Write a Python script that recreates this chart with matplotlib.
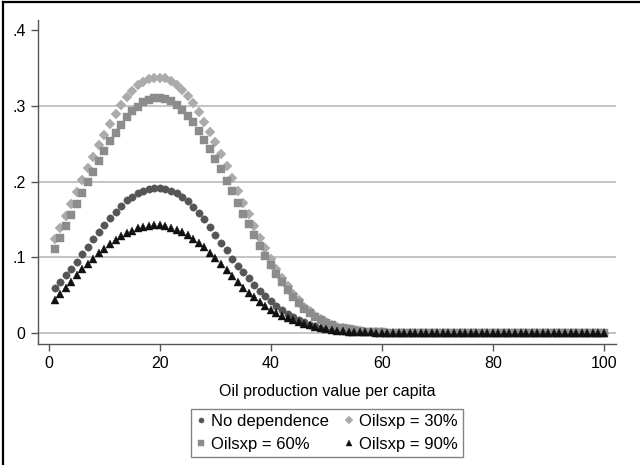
import matplotlib
matplotlib.use("Agg")
import matplotlib.pyplot as plt
from matplotlib.lines import Line2D

plt.rcParams['font.family'] = ['Liberation Sans', 'DejaVu Sans']

# oil production value per capita, 1..100
oil_value = list(range(1, 101))

no_dependence = [
    .060, .068, .076, .085, .094, .104, .114, .124, .134, .143,
    .152, .160, .168, .175, .180, .185, .188, .190, .191, .191,
    .190, .188, .185, .180, .174, .167, .159, .150, .140, .130,
    .119, .109, .098, .088, .080, .072, .064, .056, .049, .042,
    .036, .030, .025, .021, .017, .014, .011, .009, .007, .006,
    .005, .004, .003, .002, .002, .001, .001, .001, 0, 0,
    0, 0, 0, 0, 0, 0, 0, 0, 0, 0,
    0, 0, 0, 0, 0, 0, 0, 0, 0, 0,
    0, 0, 0, 0, 0, 0, 0, 0, 0, 0,
    0, 0, 0, 0, 0, 0, 0, 0, 0, 0,
]

oilsxp_30 = [
    .124, .138, .154, .170, .186, .202, .218, .233, .248, .262,
    .276, .289, .301, .311, .320, .327, .332, .335, .337, .337,
    .336, .333, .328, .321, .313, .303, .292, .279, .266, .252,
    .236, .220, .204, .188, .172, .157, .141, .126, .112, .098,
    .085, .073, .062, .052, .043, .035, .029, .023, .018, .014,
    .011, .008, .006, .005, .004, .003, .002, .002, .001, .001,
    0, 0, 0, 0, 0, 0, 0, 0, 0, 0,
    0, 0, 0, 0, 0, 0, 0, 0, 0, 0,
    0, 0, 0, 0, 0, 0, 0, 0, 0, 0,
    0, 0, 0, 0, 0, 0, 0, 0, 0, 0,
]

oilsxp_60 = [
    .111, .126, .141, .156, .170, .185, .199, .213, .227, .240,
    .253, .264, .275, .285, .293, .299, .305, .308, .310, .310,
    .309, .306, .301, .294, .287, .278, .267, .255, .243, .230,
    .216, .201, .187, .172, .157, .144, .129, .115, .102, .090,
    .078, .067, .057, .048, .039, .032, .027, .021, .017, .013,
    .010, .007, .006, .005, .004, .003, .002, .002, .001, .001,
    0, 0, 0, 0, 0, 0, 0, 0, 0, 0,
    0, 0, 0, 0, 0, 0, 0, 0, 0, 0,
    0, 0, 0, 0, 0, 0, 0, 0, 0, 0,
    0, 0, 0, 0, 0, 0, 0, 0, 0, 0,
]

oilsxp_90 = [
    .044, .052, .060, .068, .076, .084, .091, .098, .105, .111,
    .117, .123, .128, .132, .135, .138, .140, .141, .142, .142,
    .141, .139, .136, .133, .129, .124, .119, .113, .106, .099,
    .091, .083, .075, .067, .060, .053, .047, .041, .036, .031,
    .027, .023, .020, .017, .014, .012, .010, .008, .007, .005,
    .004, .003, .003, .002, .002, .001, .001, .001, 0, 0,
    0, 0, 0, 0, 0, 0, 0, 0, 0, 0,
    0, 0, 0, 0, 0, 0, 0, 0, 0, 0,
    0, 0, 0, 0, 0, 0, 0, 0, 0, 0,
    0, 0, 0, 0, 0, 0, 0, 0, 0, 0,
]

x_ticks = [0, 20, 40, 60, 80, 100]
y_ticks = [0, .1, .2, .3, .4]
y_ticklabels = ['0', '.1', '.2', '.3', '.4']

fig = plt.figure(figsize=(6.4, 4.65), dpi=100)
ax = fig.add_axes([38 / 640, 1 - 344 / 465, 578 / 640, 324 / 465])

series = [
    (no_dependence, 'o', '#555555', 5.3, 'No dependence'),
    (oilsxp_30, 'D', '#ababab', 5.4, 'Oilsxp = 30%'),
    (oilsxp_60, 's', '#8c8c8c', 5.2, 'Oilsxp = 60%'),
    (oilsxp_90, '^', '#111111', 5.9, 'Oilsxp = 90%'),
]
handles = {}
for vals, mk, col, ms, lab in series:
    h, = ax.plot(oil_value, vals, linestyle='none', marker=mk, ms=ms,
                 mfc=col, mec=col, mew=0.3, label=lab, zorder=3)
    handles[lab] = h

ax.set_xlim(-1.98, 102.2)
ax.set_ylim(-0.0145, 0.4132)
ax.set_xticks(x_ticks)
ax.set_yticks(y_ticks)
ax.set_yticklabels(y_ticklabels)
ax.tick_params(labelsize=11.5, length=5, width=1, color='#555555',
               labelcolor='black', pad=4)

for y in y_ticks[:-1]:
    ax.axhline(y, color='#b4b4b4', lw=1.1, zorder=1)

for s in ['top', 'right']:
    ax.spines[s].set_visible(False)
for s in ['left', 'bottom']:
    ax.spines[s].set_color('#555555')
    ax.spines[s].set_linewidth(1)

ax.set_xlabel('Oil production value per capita', fontsize=11.5, labelpad=9)

order = ['No dependence', 'Oilsxp = 60%', 'Oilsxp = 30%', 'Oilsxp = 90%']
leg = fig.legend([handles[k] for k in order], order, loc='center',
                 bbox_to_anchor=(327 / 640, 1 - 433 / 465), ncol=2,
                 fontsize=12, frameon=True, fancybox=False,
                 handlelength=0.6, handletextpad=0.3, columnspacing=0.9,
                 labelspacing=0.5, borderpad=0.3, markerscale=0.7)
leg.get_frame().set_edgecolor('#666666')
leg.get_frame().set_linewidth(1)

# outer frame (left and top edges only are visible)
fig.add_artist(Line2D([3 / 640, 3 / 640], [0, 1 - 2.5 / 465],
                      transform=fig.transFigure, color='black', lw=1.6))
fig.add_artist(Line2D([3 / 640, 1], [1 - 2.5 / 465, 1 - 2.5 / 465],
                      transform=fig.transFigure, color='black', lw=1.6))

fig.savefig('out.png', dpi=100)
